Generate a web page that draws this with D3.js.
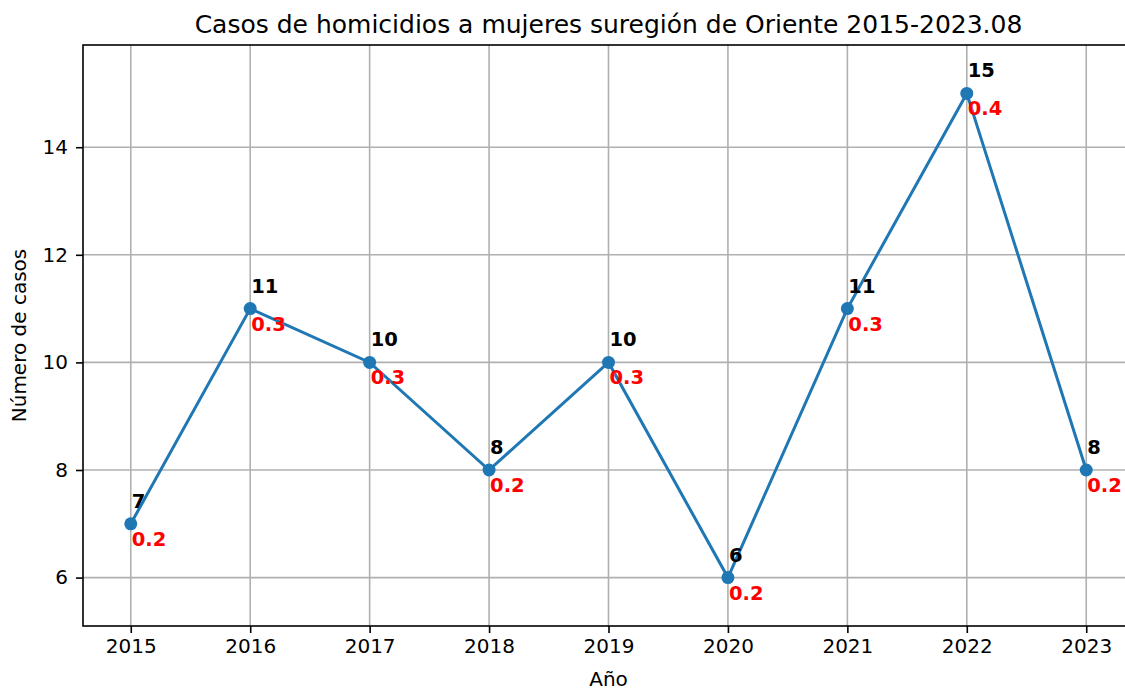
<!DOCTYPE html>
<html lang="es">
<head>
<meta charset="UTF-8" />
<title>Casos de homicidios a mujeres</title>
<script src="https://d3js.org/d3.v7.min.js"></script>
<style>
  body { margin: 0; background: #fff; }
  svg text { font-family: "DejaVu Sans", sans-serif; }
</style>
</head>
<body>
<div id="chart"></div>
<script>
// data
var years = [2015, 2016, 2017, 2018, 2019, 2020, 2021, 2022, 2023];
var casos = [7, 11, 10, 8, 10, 6, 11, 15, 8];
var tasas = ["0.2", "0.3", "0.3", "0.2", "0.3", "0.2", "0.3", "0.4", "0.2"];
var yTicks = [6, 8, 10, 12, 14];

var width = 1125, height = 691;
// plot box (right edge runs past the picture, like the original crop)
var m = { left: 83, top: 45, right: 1134, bottom: 626 };

var svg = d3.select("#chart").append("svg")
  .attr("width", width)
  .attr("height", height);

var x = d3.scaleLinear().domain([2014.6, 2023.4]).range([m.left, m.right]);
var y = d3.scaleLinear().domain([5.1, 15.9]).range([m.bottom, m.top]);

// grid
svg.append("g").selectAll("line").data(years).enter().append("line")
  .attr("x1", function(d) { return x(d); }).attr("x2", function(d) { return x(d); })
  .attr("y1", m.top).attr("y2", m.bottom)
  .attr("stroke", "#b0b0b0").attr("stroke-width", 1.6);
svg.append("g").selectAll("line").data(yTicks).enter().append("line")
  .attr("x1", m.left).attr("x2", m.right)
  .attr("y1", function(d) { return y(d); }).attr("y2", function(d) { return y(d); })
  .attr("stroke", "#b0b0b0").attr("stroke-width", 1.6);

// axes
var xAxis = svg.append("g")
  .attr("transform", "translate(0," + m.bottom + ")")
  .call(d3.axisBottom(x).tickValues(years).tickFormat(d3.format("d")).tickSizeInner(7).tickSizeOuter(0).tickPadding(6));
var yAxis = svg.append("g")
  .attr("transform", "translate(" + m.left + ",0)")
  .call(d3.axisLeft(y).tickValues(yTicks).tickSizeInner(7).tickSizeOuter(0).tickPadding(8));
[xAxis, yAxis].forEach(function(a) {
  a.selectAll(".domain").remove();
  a.selectAll("line").attr("stroke", "#000").attr("stroke-width", 1.6);
  a.selectAll("text").attr("font-size", 20).attr("fill", "#000")
    .attr("font-family", "DejaVu Sans, sans-serif");
});

// frame
svg.append("rect")
  .attr("x", m.left).attr("y", m.top)
  .attr("width", m.right - m.left).attr("height", m.bottom - m.top)
  .attr("fill", "none").attr("stroke", "#000").attr("stroke-width", 1.6);

// line + markers
var pts = years.map(function(d, i) { return { year: d, v: casos[i], t: tasas[i] }; });
svg.append("path").datum(pts)
  .attr("fill", "none").attr("stroke", "#1f77b4").attr("stroke-width", 3)
  .attr("d", d3.line().x(function(d) { return x(d.year); }).y(function(d) { return y(d.v); }));
svg.append("g").selectAll("circle").data(pts).enter().append("circle")
  .attr("cx", function(d) { return x(d.year); })
  .attr("cy", function(d) { return y(d.v); })
  .attr("r", 6.5).attr("fill", "#1f77b4");

// value labels
svg.append("g").selectAll("text").data(pts).enter().append("text")
  .attr("x", function(d) { return x(d.year) + 1; })
  .attr("y", function(d) { return y(d.v) - 16; })
  .attr("font-size", 19.5).attr("font-weight", "bold").attr("fill", "#000")
  .text(function(d) { return d.v; });
svg.append("g").selectAll("text").data(pts).enter().append("text")
  .attr("x", function(d) { return x(d.year) + 1; })
  .attr("y", function(d) { return y(d.v) + 22; })
  .attr("font-size", 19.5).attr("font-weight", "bold").attr("fill", "red")
  .text(function(d) { return d.t; });

// titles
svg.append("text")
  .attr("x", (m.left + m.right) / 2).attr("y", 33)
  .attr("text-anchor", "middle").attr("font-size", 25).attr("fill", "#000")
  .text("Casos de homicidios a mujeres suregión de Oriente 2015-2023.08");
svg.append("text")
  .attr("x", (m.left + m.right) / 2).attr("y", 686)
  .attr("text-anchor", "middle").attr("font-size", 20).attr("fill", "#000")
  .text("Año");
svg.append("text")
  .attr("transform", "translate(26," + ((m.top + m.bottom) / 2) + ") rotate(-90)")
  .attr("text-anchor", "middle").attr("font-size", 20).attr("fill", "#000")
  .text("Número de casos");
</script>
</body>
</html>
